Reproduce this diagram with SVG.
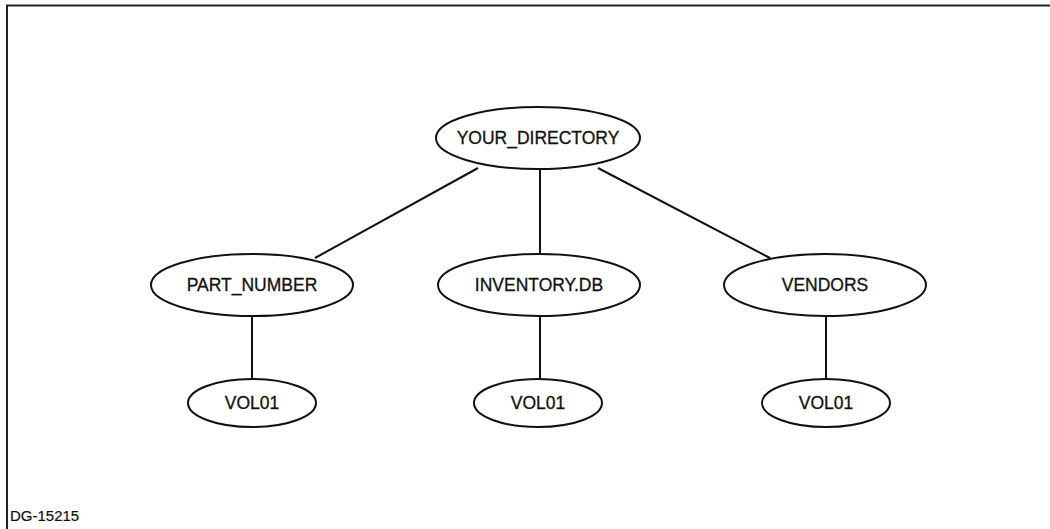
<svg xmlns="http://www.w3.org/2000/svg" width="1050" height="529" viewBox="0 0 1050 529">
  <style>
    .node { fill: #ffffff; stroke: #111111; stroke-width: 2; }
    .label { font-family: "Liberation Sans", Arial, sans-serif; font-size: 17.5px; fill: #111111; text-anchor: middle; stroke: #111111; stroke-width: 0.3; }
    .edge { stroke: #111111; stroke-width: 2; fill: none; }
    .frame { stroke: #222222; stroke-width: 2; fill: none; }
    .code { font-family: "Liberation Sans", Arial, sans-serif; font-size: 15px; fill: #111111; stroke: #111111; stroke-width: 0.2; }
  </style>
  <rect width="1050" height="529" fill="#ffffff"/>
  <!-- page frame: top and left rules -->
  <path class="frame" d="M7,529 V5.5 H1050"/>

  <g id="connectors">
    <line class="edge" x1="478" y1="168" x2="315" y2="258"/>
    <line class="edge" x1="540" y1="170" x2="540" y2="253"/>
    <line class="edge" x1="598" y1="168" x2="770" y2="258"/>
    <line class="edge" x1="252" y1="317" x2="252" y2="378"/>
    <line class="edge" x1="540" y1="317" x2="540" y2="378"/>
    <line class="edge" x1="826" y1="317" x2="826" y2="378"/>
  </g>

  <g id="your_directory">
    <ellipse class="node" cx="538" cy="138" rx="102" ry="31"/>
    <text class="label" x="538" y="144">YOUR_DIRECTORY</text>
  </g>
  <g id="part_number">
    <ellipse class="node" cx="252" cy="285" rx="101" ry="31"/>
    <text class="label" x="252" y="291">PART_NUMBER</text>
  </g>
  <g id="inventory_db">
    <ellipse class="node" cx="539" cy="285" rx="101" ry="31"/>
    <text class="label" x="539" y="291">INVENTORY.DB</text>
  </g>
  <g id="vendors">
    <ellipse class="node" cx="825" cy="285" rx="101" ry="31"/>
    <text class="label" x="825" y="291">VENDORS</text>
  </g>
  <g id="vol01_part">
    <ellipse class="node" cx="252" cy="403" rx="64" ry="24"/>
    <text class="label" x="252" y="409">VOL01</text>
  </g>
  <g id="vol01_inventory">
    <ellipse class="node" cx="538" cy="403" rx="64" ry="24"/>
    <text class="label" x="538" y="409">VOL01</text>
  </g>
  <g id="vol01_vendors">
    <ellipse class="node" cx="826" cy="403" rx="64" ry="24"/>
    <text class="label" x="826" y="409">VOL01</text>
  </g>

  <text class="code" x="10" y="521">DG-15215</text>
</svg>
